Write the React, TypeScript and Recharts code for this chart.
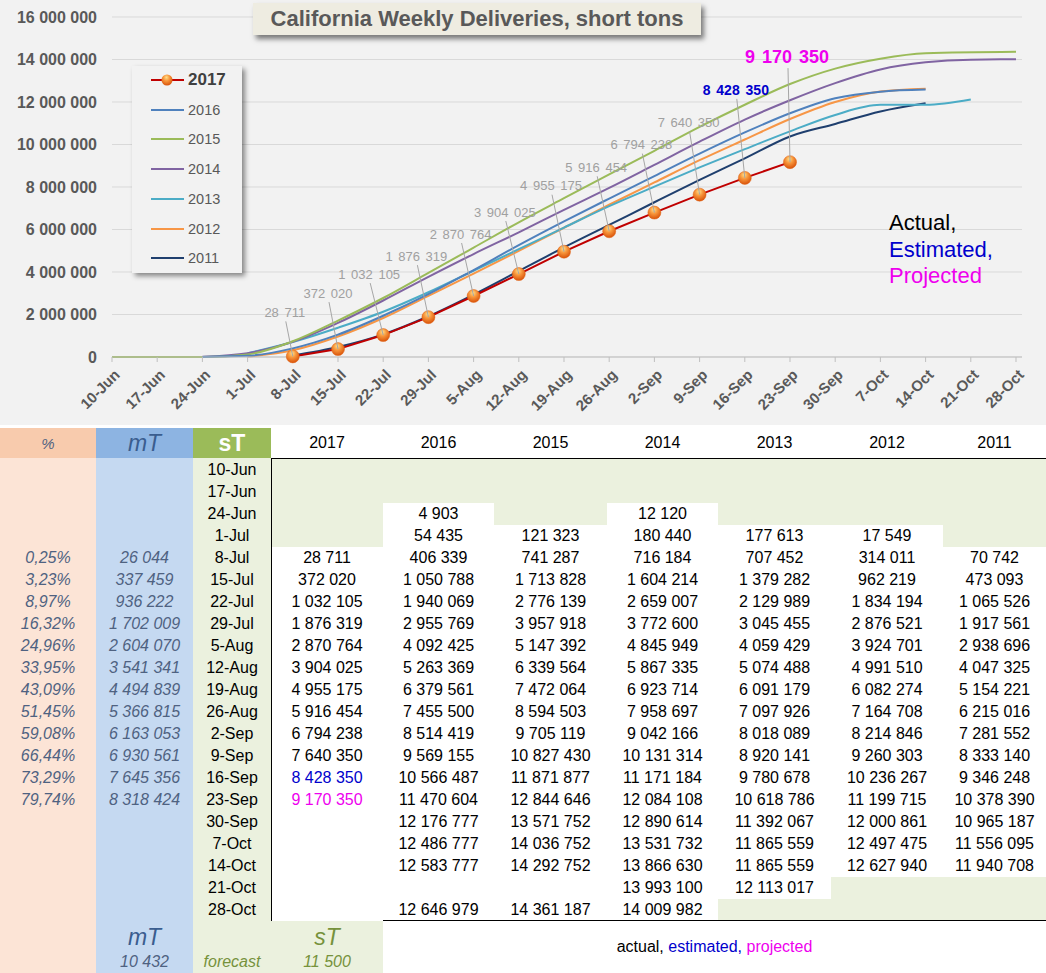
import React from 'react';
import { LineChart, Line, XAxis, YAxis, CartesianGrid, LabelList } from 'recharts';

const weeks = ['10-Jun','17-Jun','24-Jun','1-Jul','8-Jul','15-Jul','22-Jul','29-Jul','5-Aug','12-Aug','19-Aug','26-Aug','2-Sep','9-Sep','16-Sep','23-Sep','30-Sep','7-Oct','14-Oct','21-Oct','28-Oct'];

const y2017 = [null,null,null,null,28711,372020,1032105,1876319,2870764,3904025,4955175,5916454,6794238,7640350,8428350,9170350,null,null,null,null,null];
const y2016 = [null,null,4903,54435,406339,1050788,1940069,2955769,4092425,5263369,6379561,7455500,8514419,9569155,10566487,11470604,12176777,12486777,12583777,null,12646979];
const y2015 = [0,0,0,121323,741287,1713828,2776139,3957918,5147392,6339564,7472064,8594503,9705119,10827430,11871877,12844646,13571752,14036752,14292752,null,14361187];
const y2014 = [null,null,12120,180440,716184,1604214,2659007,3772600,4845949,5867335,6923714,7958697,9042166,10131314,11171184,12084108,12890614,13531732,13866630,13993100,14009982];
const y2013 = [null,null,null,177613,707452,1379282,2129989,3045455,4059429,5074488,6091179,7097926,8018089,8920141,9780678,10618786,11392067,11865559,11865559,12113017,null];
const y2012 = [null,null,null,17549,314011,962219,1834194,2876521,3924701,4991510,6082274,7164708,8214846,9260303,10236267,11199715,12000861,12497475,12627940,null,null];
const y2011 = [null,null,null,null,70742,473093,1065526,1917561,2938696,4047325,5154221,6215016,7281552,8333140,9346248,10378390,10965187,11556095,11940708,null,null];

const pct2017 = [null,null,null,null,0.25,3.23,8.97,16.32,24.96,33.95,43.09,51.45,59.08,66.44,73.29,79.74,null,null,null,null,null];
const mT2017 = [null,null,null,null,26044,337459,936222,1702009,2604070,3541341,4494839,5366815,6163053,6930561,7645356,8318424,null,null,null,null,null];

const forecastMT = 10432;
const forecastST = 11500;

const yTicks = [0,2000000,4000000,6000000,8000000,10000000,12000000,14000000,16000000];

const seriesNames = ['2017','2016','2015','2014','2013','2012','2011'];
const seriesData = [y2017,y2016,y2015,y2014,y2013,y2012,y2011];
const seriesColors = ['#c00000','#4f81bd','#9bbb59','#8064a2','#4bacc6','#f79646','#1f3f6e'];

// label style (offsets from point, in px) for 2017 data labels
const labelDx = [-8,-10,-14,-12,-13,-14,-13,-13,-13,-11,-9,-3];
const labelDy = [-44,-56,-61,-61,-62,-62,-66,-64,-68,-72,-88,-106];

const chartData = weeks.map((w, i) => {
  const row: any = { week: w };
  seriesNames.forEach((n, k) => { row['y' + n] = seriesData[k][i]; });
  return row;
});

const fmt = (n: number) => String(n).replace(/\B(?=(\d{3})+(?!\d))/g, ' ');
const fmtPct = (v: number) => v.toFixed(2).replace('.', ',') + '%';

const FONT = 'Arial, "Liberation Sans", sans-serif';
const ESTIMATED = '#0000cc';
const PROJECTED = '#ee00ee';

const XTick = (props: any) => {
  const { x, y, payload } = props;
  return (
    <text
      x={0}
      y={0}
      dy="0.55em"
      textAnchor="end"
      transform={`translate(${x + 3},${y + 5}) rotate(-45)`}
      fontSize={15}
      fontWeight={700}
      fill="#595959"
      fontFamily={FONT}
    >
      {payload.value}
    </text>
  );
};

const Ball = (props: any) => {
  const { cx, cy, value, index } = props;
  if (value == null || cy == null || cx == null) return <g key={'b' + index} />;
  return <circle key={'b' + index} cx={cx} cy={cy} r={6.5} fill="url(#ballGrad)" stroke="#e06010" strokeWidth={0.5} />;
};

const DataLabel = (props: any) => {
  const { x, y, value } = props;
  if (value == null || x == null || y == null) return null;
  const k = y2017.indexOf(value) - 4;
  if (k < 0) return null;
  const lx = x + labelDx[k];
  const ly = y + labelDy[k];
  let color = '#a0a0a0';
  let size = 13;
  let weight: any = 400;
  if (k === 10) { color = ESTIMATED; size = 14; weight = 700; }
  if (k === 11) { color = PROJECTED; size = 18; weight = 700; }
  const off = k === 11 ? 12 : 9;
  return (
    <g>
      <line x1={lx + 1} y1={ly + off} x2={x} y2={y} stroke="#a6a6a6" strokeWidth={1} />
      <text x={lx} y={ly} dy="0.36em" textAnchor="middle" fontSize={size} fontWeight={weight} fill={color} fontFamily={FONT} style={{ wordSpacing: 2 }}>
        {fmt(value)}
      </text>
    </g>
  );
};

const colX = [0,96,193,271,383,494,607,718,831,943,1046];
const tableTop = 428;
const headH = 30;
const bodyTop = 459;
const rowH = 22;

const isBeige = (col: number, row: number) => {
  const arr = seriesData[col];
  const v = arr[row];
  if (v != null && v !== 0) return false;
  let first = -1, last = -1;
  arr.forEach((a, i) => { if (a != null && a !== 0) { if (first < 0) first = i; last = i; } });
  if (row < first) return true;
  if (col !== 0 && row > last) return true;
  return false;
};

const Cell = ({ x1, x2, top, h, bg, children, style }: any) => (
  <div style={{
    position: 'absolute', left: x1, top, width: x2 - x1, height: h, background: bg,
    display: 'flex', alignItems: 'center', justifyContent: 'center', whiteSpace: 'nowrap', ...style,
  }}>{children}</div>
);

const Table = () => {
  const cells: any[] = [];
  const footerTop = bodyTop + rowH * weeks.length;
  cells.push(<div key="pbg" style={{ position: 'absolute', left: colX[0], top: tableTop + headH, width: colX[1] - colX[0], height: 973 - tableTop - headH, background: '#fce4d6' }} />);
  cells.push(<div key="mbg" style={{ position: 'absolute', left: colX[1], top: tableTop + headH, width: colX[2] - colX[1], height: 973 - tableTop - headH, background: '#c5d9f1' }} />);
  cells.push(<div key="sbg" style={{ position: 'absolute', left: colX[2], top: tableTop + headH, width: colX[3] - colX[2], height: 973 - tableTop - headH, background: '#ebf1de' }} />);
  cells.push(<div key="fbg" style={{ position: 'absolute', left: colX[3], top: footerTop, width: colX[4] - colX[3], height: 973 - footerTop, background: '#ebf1de' }} />);
  cells.push(<Cell key="h0" x1={colX[0]} x2={colX[1]} top={tableTop} h={headH} bg="#f8cbad" style={{ fontStyle: 'italic', fontSize: 15, color: '#4f6281' }}>%</Cell>);
  cells.push(<Cell key="h1" x1={colX[1]} x2={colX[2]} top={tableTop} h={headH} bg="#8db4e2" style={{ fontStyle: 'italic', fontSize: 23, color: '#3a5d8f' }}>mT</Cell>);
  cells.push(<Cell key="h2" x1={colX[2]} x2={colX[3]} top={tableTop} h={headH} bg="#9bbb59" style={{ fontWeight: 700, fontSize: 23, color: '#ffffff' }}>sT</Cell>);
  seriesNames.forEach((n, k) => {
    cells.push(<Cell key={'hy' + k} x1={colX[3 + k]} x2={colX[4 + k]} top={tableTop} h={headH} bg="#ffffff" style={{ fontSize: 16, color: '#000' }}>{n}</Cell>);
  });
  weeks.forEach((w, r) => {
    const top = bodyTop + rowH * r;
    if (pct2017[r] != null) cells.push(<Cell key={'p' + r} x1={colX[0]} x2={colX[1]} top={top} h={rowH} style={{ fontStyle: 'italic', fontSize: 16, color: '#4f6281' }}>{fmtPct(pct2017[r] as number)}</Cell>);
    if (mT2017[r] != null) cells.push(<Cell key={'m' + r} x1={colX[1]} x2={colX[2]} top={top} h={rowH} style={{ fontStyle: 'italic', fontSize: 16, color: '#4f6281' }}>{fmt(mT2017[r] as number)}</Cell>);
    cells.push(<Cell key={'w' + r} x1={colX[2]} x2={colX[3]} top={top} h={rowH} style={{ fontSize: 16, color: '#000' }}>{w}</Cell>);
    seriesNames.forEach((n, k) => {
      const v = seriesData[k][r];
      const beige = isBeige(k, r);
      let color = '#000';
      if (k === 0 && r === 14) color = ESTIMATED;
      if (k === 0 && r === 15) color = PROJECTED;
      cells.push(
        <Cell key={'c' + r + '_' + k} x1={colX[3 + k]} x2={colX[4 + k]} top={top} h={rowH} bg={beige ? '#ebf1de' : '#ffffff'} style={{ fontSize: 16, color }}>
          {v != null && v !== 0 ? fmt(v) : ''}
        </Cell>
      );
    });
  });
  cells.push(<div key="l1" style={{ position: 'absolute', left: colX[3], top: bodyTop - 1, width: 1046 - colX[3], height: 1, background: '#000' }} />);
  cells.push(<div key="l2" style={{ position: 'absolute', left: colX[3], top: bodyTop - 1, width: 1, height: footerTop - bodyTop + 1, background: '#000' }} />);
  cells.push(<div key="l3" style={{ position: 'absolute', left: colX[4], top: footerTop - 1, width: 1046 - colX[4], height: 1, background: '#000' }} />);
  cells.push(<Cell key="f1" x1={colX[1]} x2={colX[2]} top={footerTop + 3} h={26} style={{ fontStyle: 'italic', fontSize: 23, color: '#3a5d8f' }}>mT</Cell>);
  cells.push(<Cell key="f2" x1={colX[1]} x2={colX[2]} top={footerTop + 30} h={22} style={{ fontStyle: 'italic', fontSize: 16, color: '#4f6281' }}>{fmt(forecastMT)}</Cell>);
  cells.push(<Cell key="f3" x1={colX[2]} x2={colX[3]} top={footerTop + 30} h={22} style={{ fontStyle: 'italic', fontSize: 16, color: '#76923c' }}>forecast</Cell>);
  cells.push(<Cell key="f4" x1={colX[3]} x2={colX[4]} top={footerTop + 3} h={26} style={{ fontStyle: 'italic', fontSize: 23, color: '#76923c' }}>sT</Cell>);
  cells.push(<Cell key="f5" x1={colX[3]} x2={colX[4]} top={footerTop + 30} h={22} style={{ fontStyle: 'italic', fontSize: 16, color: '#76923c' }}>{fmt(forecastST)}</Cell>);
  cells.push(
    <Cell key="f6" x1={colX[4]} x2={1046} top={footerTop + 14} h={24} style={{ fontSize: 16, color: '#000' }}>
      <span>actual, </span>&nbsp;<span style={{ color: ESTIMATED }}>estimated,</span>&nbsp;<span style={{ color: PROJECTED }}>projected</span>
    </Cell>
  );
  return <>{cells}</>;
};

const LegendBox = () => (
  <div style={{
    position: 'absolute', left: 132, top: 66, width: 110, height: 207, background: '#f2f2f2',
    boxShadow: '3px 3px 5px rgba(0,0,0,0.45)', fontFamily: FONT,
  }}>
    {seriesNames.map((n, k) => (
      <div key={n} style={{ position: 'absolute', left: 0, top: 14 + k * 29.7 - 12, height: 24, display: 'flex', alignItems: 'center' }}>
        <svg width={54} height={20} style={{ display: 'block' }}>
          <line x1={19} y1={10} x2={52} y2={10} stroke={seriesColors[k]} strokeWidth={2.2} />
          {k === 0 && <circle cx={35} cy={10} r={5.5} fill="url(#ballGrad)" />}
        </svg>
        <span style={{ marginLeft: 2, fontSize: k === 0 ? 17 : 14.5, fontWeight: k === 0 ? 700 : 400, color: k === 0 ? '#404040' : '#595959' }}>{n}</span>
      </div>
    ))}
  </div>
);

export default function App() {
  return (
    <div style={{ position: 'absolute', left: 0, top: 0, width: 1046, height: 973, background: '#fff', fontFamily: FONT, overflow: 'hidden' }}>
      <svg width={0} height={0} style={{ position: 'absolute' }}>
        <defs>
          <radialGradient id="ballGrad" cx="45%" cy="35%" r="65%" fx="45%" fy="25%">
            <stop offset="0%" stopColor="#ffe08a" />
            <stop offset="45%" stopColor="#f7963c" />
            <stop offset="100%" stopColor="#d9530a" />
          </radialGradient>
        </defs>
      </svg>
      <div style={{ position: 'absolute', left: 0, top: 0, width: 1046, height: 425, background: '#f2f2f2' }}>
        <LineChart width={1046} height={425} data={chartData} margin={{ top: 17, right: 24, bottom: 0, left: 0 }}>
          <CartesianGrid vertical={false} stroke="#d9d9d9" strokeWidth={1} />
          <XAxis
            dataKey="week"
            interval={0}
            tick={<XTick />}
            tickSize={5}
            tickMargin={3}
            tickLine={{ stroke: '#bfbfbf' }}
            axisLine={{ stroke: '#bfbfbf' }}
            padding={{ left: 0, right: 6 }}
            height={68}
          />
          <YAxis
            domain={[0, 16000000]}
            ticks={yTicks}
            width={112}
            axisLine={false}
            tickLine={false}
            tickSize={0}
            tickMargin={15}
            tickFormatter={fmt}
            tick={{ fontSize: 16, fontWeight: 700, fill: '#595959', fontFamily: FONT }}
          />
          <Line type="monotone" dataKey="y2011" stroke={seriesColors[6]} strokeWidth={2} dot={false} isAnimationActive={false} />
          <Line type="monotone" dataKey="y2012" stroke={seriesColors[5]} strokeWidth={2} dot={false} isAnimationActive={false} />
          <Line type="monotone" dataKey="y2013" stroke={seriesColors[4]} strokeWidth={2} dot={false} isAnimationActive={false} />
          <Line type="monotone" dataKey="y2014" stroke={seriesColors[3]} strokeWidth={2} dot={false} isAnimationActive={false} />
          <Line type="monotone" dataKey="y2015" stroke={seriesColors[2]} strokeWidth={2} dot={false} connectNulls isAnimationActive={false} />
          <Line type="monotone" dataKey="y2016" stroke={seriesColors[1]} strokeWidth={2} dot={false} isAnimationActive={false} />
          <Line type="linear" dataKey="y2017" stroke={seriesColors[0]} strokeWidth={2} dot={<Ball />} activeDot={false} isAnimationActive={false}>
            <LabelList dataKey="y2017" content={<DataLabel />} />
          </Line>
        </LineChart>
        <div style={{
          position: 'absolute', left: 253, top: 3, width: 448, height: 32, background: '#eeece1',
          boxShadow: '3px 4px 5px rgba(0,0,0,0.5)', display: 'flex', alignItems: 'center', justifyContent: 'center',
          fontSize: 22, fontWeight: 700, color: '#595959', whiteSpace: 'nowrap',
        }}>
          California Weekly Deliveries, short tons
        </div>
        <LegendBox />
        <div style={{ position: 'absolute', left: 889, top: 210, fontSize: 22, lineHeight: '26.5px', whiteSpace: 'nowrap' }}>
          <div style={{ color: '#000' }}>Actual,</div>
          <div style={{ color: ESTIMATED }}>Estimated,</div>
          <div style={{ color: PROJECTED }}>Projected</div>
        </div>
      </div>
      <Table />
    </div>
  );
}
